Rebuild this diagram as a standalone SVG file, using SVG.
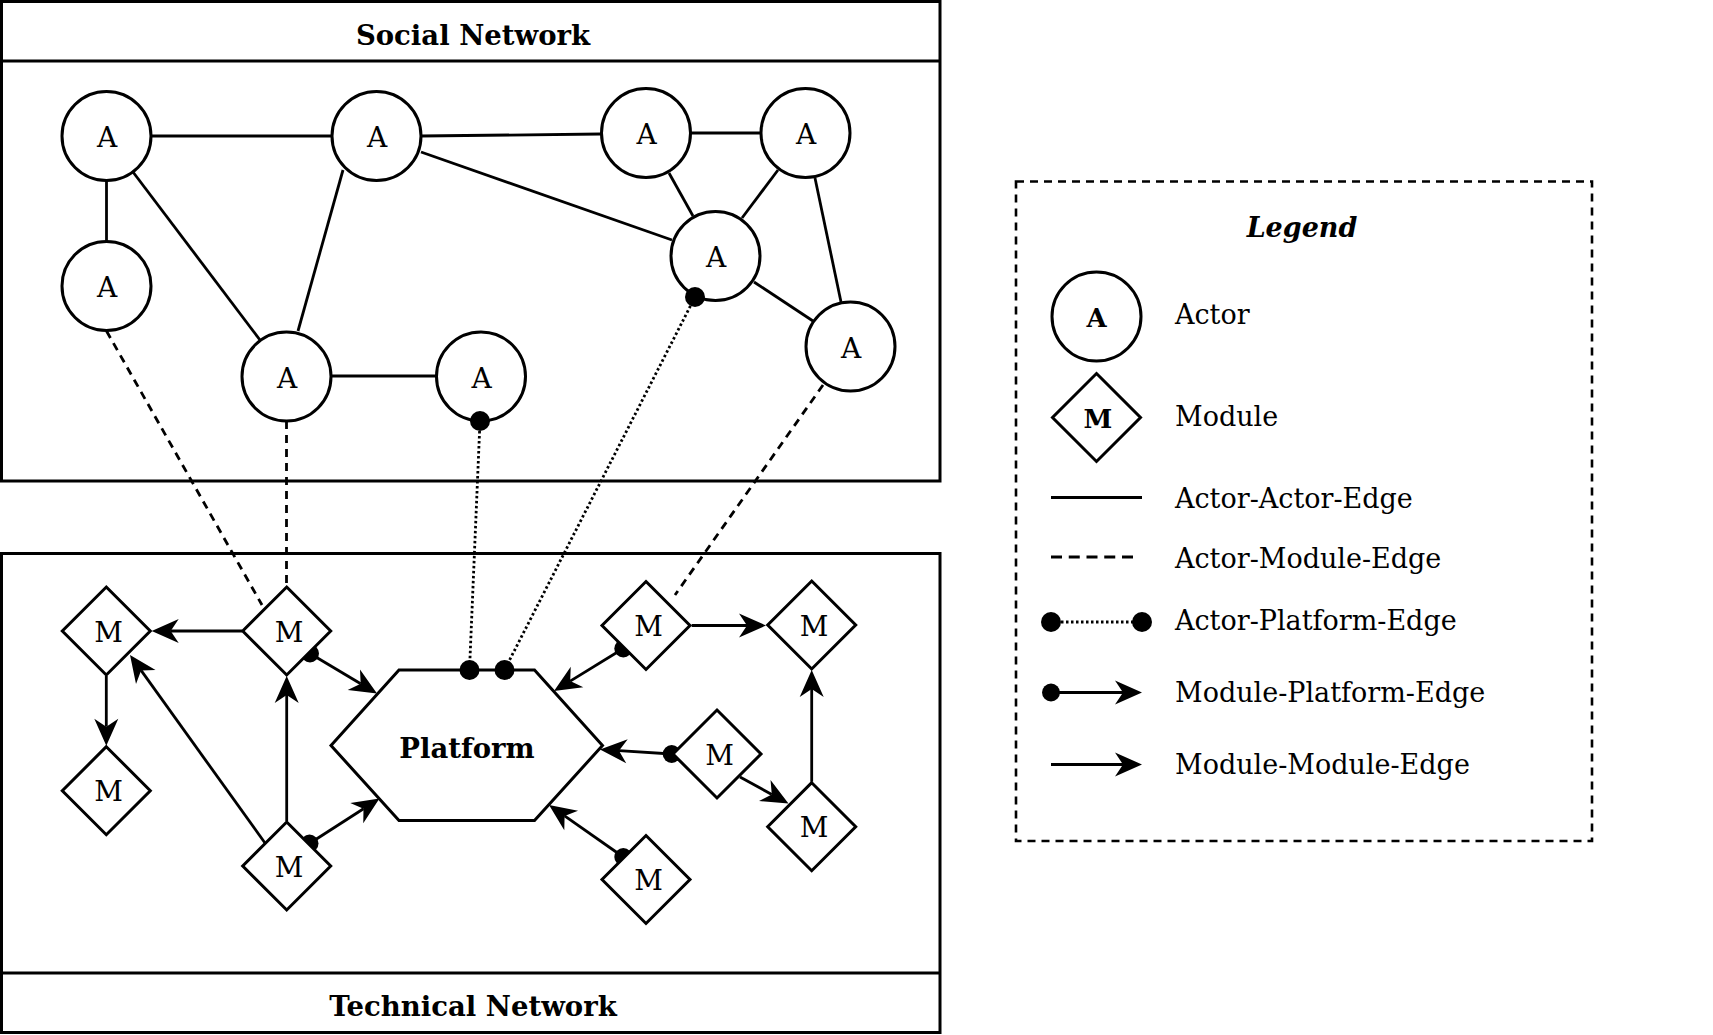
<svg xmlns="http://www.w3.org/2000/svg" width="1713" height="1035" viewBox="0 0 1713 1035">
<style>
  .box{fill:#fff;stroke:#000;stroke-width:3}
  .actor{fill:#fff;stroke:#000;stroke-width:3}
  .module{fill:#fff;stroke:#000;stroke-width:3}
  .edge{fill:none;stroke:#000;stroke-width:2.8}
  .dash{stroke-dasharray:8 6}
  .dot{stroke-dasharray:2.5 2.5}
  .arrow{marker-end:url(#arrow)}
  .mp{marker-start:url(#dot9);marker-end:url(#arrow)}
  .ap{marker-start:url(#dot10);marker-end:url(#dot10)}
  text{font-family:"DejaVu Serif","Liberation Serif",serif;fill:#000}
  .title{font-size:27.5px;font-weight:bold;text-anchor:middle}
  .lbl{font-size:28px;text-anchor:middle}
  .leg{font-size:27px}
  .legb{font-size:26px;font-weight:bold;text-anchor:middle}
</style>
<defs>
  <marker id="arrow" markerUnits="userSpaceOnUse" viewBox="0 0 27 24" refX="8" refY="12" markerWidth="27" markerHeight="24" orient="auto" overflow="visible">
    <path d="M0,0 L27,12 L0,24 L8,12 Z" fill="#000"/>
  </marker>
  <marker id="dot9" markerUnits="userSpaceOnUse" viewBox="0 0 18 18" refX="9" refY="9" markerWidth="18" markerHeight="18" overflow="visible">
    <circle cx="9" cy="9" r="9" fill="#000"/>
  </marker>
  <marker id="dot10" markerUnits="userSpaceOnUse" viewBox="0 0 20 20" refX="10" refY="10" markerWidth="20" markerHeight="20" overflow="visible">
    <circle cx="10" cy="10" r="10" fill="#000"/>
  </marker>
</defs>

<g id="social-network">
  <rect class="box" x="1.5" y="1.5" width="938.5" height="479.5"/>
  <line x1="1.5" y1="61" x2="940" y2="61" stroke="#000" stroke-width="3"/>
  <text class="title" x="473" y="45">Social Network</text>
</g>
<g id="technical-network">
  <rect class="box" x="1.5" y="553.5" width="938.5" height="479"/>
  <line x1="1.5" y1="973" x2="940" y2="973" stroke="#000" stroke-width="3"/>
  <text class="title" x="473" y="1016">Technical Network</text>
</g>

<g id="connectors">
  <!-- actor-actor -->
  <line class="edge" x1="151" y1="136" x2="332" y2="136"/>
  <line class="edge" x1="106.5" y1="181" x2="106.5" y2="241.5"/>
  <line class="edge" x1="133" y1="172" x2="260" y2="340"/>
  <line class="edge" x1="343" y1="170" x2="298" y2="331"/>
  <line class="edge" x1="421" y1="136" x2="601" y2="134"/>
  <line class="edge" x1="421" y1="152" x2="672" y2="240"/>
  <line class="edge" x1="690.5" y1="133" x2="761" y2="133"/>
  <line class="edge" x1="669" y1="173" x2="693" y2="216"/>
  <line class="edge" x1="778" y1="170" x2="742" y2="218"/>
  <line class="edge" x1="815" y1="178" x2="841" y2="302"/>
  <line class="edge" x1="754" y1="282" x2="813" y2="321"/>
  <line class="edge" x1="330.5" y1="376" x2="437" y2="376"/>
  <!-- actor-module -->
  <line class="edge dash" x1="106.5" y1="331" x2="262" y2="605"/>
  <line class="edge dash" x1="286.5" y1="421" x2="286.5" y2="587"/>
  <line class="edge dash" x1="823" y1="385" x2="675" y2="595"/>
  <!-- module-module -->
  <line class="edge arrow" x1="242" y1="631" x2="170.7" y2="631"/>
  <line class="edge arrow" x1="106.3" y1="676" x2="106.3" y2="726.7"/>
  <line class="edge arrow" x1="265" y1="843" x2="141.1" y2="670.4"/>
  <line class="edge arrow" x1="286.7" y1="821" x2="286.7" y2="695"/>
  <line class="edge arrow" x1="691.7" y1="625.5" x2="747" y2="625.5"/>
  <line class="edge arrow" x1="811.7" y1="781.7" x2="811.7" y2="689"/>
  <line class="edge arrow" x1="740" y1="777" x2="771.8" y2="794.4"/>
  <!-- module-platform -->
  <line class="edge mp" x1="310" y1="653.5" x2="360.7" y2="683.8"/>
  <line class="edge mp" x1="309.5" y1="843.5" x2="363.5" y2="808.8"/>
  <line class="edge mp" x1="623.3" y1="648.5" x2="570.2" y2="681.1"/>
  <line class="edge mp" x1="671.7" y1="754" x2="619" y2="750.7"/>
  <line class="edge mp" x1="623.3" y1="857" x2="564.6" y2="815.9"/>
</g>

<g id="actor-1"><circle class="actor" cx="106.5" cy="136" r="44.5"/><text class="lbl" x="107" y="147">A</text></g>
<g id="actor-2"><circle class="actor" cx="376.5" cy="136" r="44.5"/><text class="lbl" x="377" y="147">A</text></g>
<g id="actor-3"><circle class="actor" cx="646" cy="133" r="44.5"/><text class="lbl" x="646.5" y="144">A</text></g>
<g id="actor-4"><circle class="actor" cx="805.5" cy="133" r="44.5"/><text class="lbl" x="806" y="144">A</text></g>
<g id="actor-5"><circle class="actor" cx="106.5" cy="286" r="44.5"/><text class="lbl" x="107" y="297">A</text></g>
<g id="actor-6"><circle class="actor" cx="715.5" cy="256" r="44.5"/><text class="lbl" x="716" y="267">A</text></g>
<g id="actor-7"><circle class="actor" cx="286.5" cy="376.5" r="44.5"/><text class="lbl" x="287" y="387.5">A</text></g>
<g id="actor-8"><circle class="actor" cx="481" cy="376.5" r="44.5"/><text class="lbl" x="481.5" y="387.5">A</text></g>
<g id="actor-9"><circle class="actor" cx="850.5" cy="346.5" r="44.5"/><text class="lbl" x="851" y="357.5">A</text></g>

<g id="module-1"><path class="module" d="M106.3,587 L150.3,631 L106.3,675 L62.3,631 Z"/><text class="lbl" x="108.5" y="641.5">M</text></g>
<g id="module-2"><path class="module" d="M106.3,746.7 L150.3,790.7 L106.3,834.7 L62.3,790.7 Z"/><text class="lbl" x="108.5" y="801.2">M</text></g>
<g id="module-3"><path class="module" d="M286.7,587 L330.7,631 L286.7,675 L242.7,631 Z"/><text class="lbl" x="289" y="641.5">M</text></g>
<g id="module-4"><path class="module" d="M286.7,822 L330.7,866 L286.7,910 L242.7,866 Z"/><text class="lbl" x="289" y="876.5">M</text></g>
<g id="module-5"><path class="module" d="M646,581.5 L690,625.5 L646,669.5 L602,625.5 Z"/><text class="lbl" x="648.5" y="636">M</text></g>
<g id="module-6"><path class="module" d="M811.7,581 L855.7,625 L811.7,669 L767.7,625 Z"/><text class="lbl" x="814" y="635.5">M</text></g>
<g id="module-7"><path class="module" d="M717,710 L761,754 L717,798 L673,754 Z"/><text class="lbl" x="719.5" y="764.5">M</text></g>
<g id="module-8"><path class="module" d="M811.7,782.7 L855.7,826.7 L811.7,870.7 L767.7,826.7 Z"/><text class="lbl" x="814" y="837.2">M</text></g>
<g id="module-9"><path class="module" d="M646,835.5 L690,879.5 L646,923.5 L602,879.5 Z"/><text class="lbl" x="648.5" y="890">M</text></g>

<g id="platform">
  <path class="module" d="M331,745.5 L399,670 L534.5,670 L602.5,745.5 L534.5,820.5 L399,820.5 Z"/>
  <text class="title" x="467" y="758">Platform</text>
</g>

<g id="connectors-actor-platform">
  <line class="edge dot ap" x1="480" y1="421" x2="469.5" y2="670"/>
  <line class="edge dot ap" x1="695" y1="297" x2="504.5" y2="670"/>
</g>

<g id="legend">
  <rect x="1016" y="181.5" width="576" height="659.5" fill="none" stroke="#000" stroke-width="2.6" stroke-dasharray="8 6"/>
  <text x="1302" y="237" style="font-size:27px;font-weight:bold;font-style:italic;text-anchor:middle">Legend</text>
  <circle class="actor" cx="1096.5" cy="316.5" r="44.5"/>
  <text class="legb" x="1096.5" y="326.5">A</text>
  <text class="leg" x="1175" y="324">Actor</text>
  <path class="module" d="M1096.5,373.5 L1140.5,417.5 L1096.5,461.5 L1052.5,417.5 Z"/>
  <text class="legb" x="1098" y="427.5">M</text>
  <text class="leg" x="1175" y="426">Module</text>
  <line class="edge" x1="1051" y1="497.5" x2="1142" y2="497.5"/>
  <text class="leg" x="1175" y="507.5">Actor-Actor-Edge</text>
  <line class="edge" x1="1051" y1="557" x2="1133" y2="557" stroke-dasharray="11 6.75"/>
  <text class="leg" x="1175" y="567.5">Actor-Module-Edge</text>
  <line class="edge dot ap" x1="1051" y1="622" x2="1142" y2="622"/>
  <text class="leg" x="1175" y="630">Actor-Platform-Edge</text>
  <line class="edge mp" x1="1051" y1="692.5" x2="1123" y2="692.5"/>
  <text class="leg" x="1175" y="702">Module-Platform-Edge</text>
  <line class="edge arrow" x1="1051" y1="764.5" x2="1123" y2="764.5"/>
  <text class="leg" x="1175" y="774">Module-Module-Edge</text>
</g>
</svg>
